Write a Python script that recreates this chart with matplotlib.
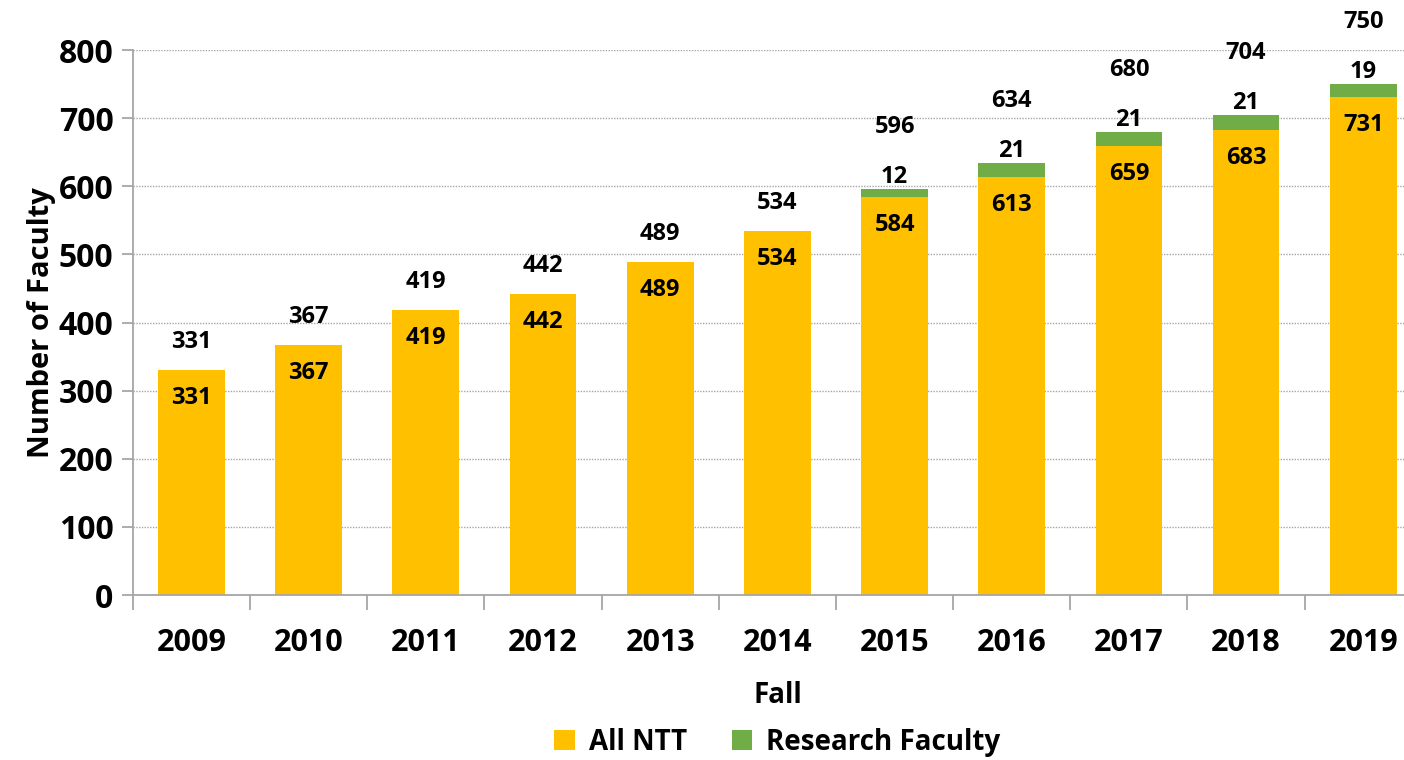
import numpy as np
import matplotlib.pyplot as plt
from matplotlib.ticker import FixedLocator, MultipleLocator
from matplotlib.transforms import offset_copy

plt.rcParams['font.family'] = ['Open Sans', 'DejaVu Sans']
plt.rcParams['font.weight'] = 'bold'

# 数据
years = ['2009', '2010', '2011', '2012', '2013', '2014', '2015', '2016', '2017', '2018', '2019']
all_ntt = [331, 367, 419, 442, 489, 534, 584, 613, 659, 683, 731]
research = [0, 0, 0, 0, 0, 0, 12, 21, 21, 21, 19]
totals = [331, 367, 419, 442, 489, 534, 596, 634, 680, 704, 750]

yellow = '#FFC000'
green = '#70AD47'

fig = plt.figure(figsize=(14.04, 7.6), dpi=100)
ax = fig.add_axes([0.0947, 0.2171, 0.918, 0.717])

x = np.arange(len(years))
w = 0.57
ax.bar(x, all_ntt, w, color=yellow, label='All NTT', zorder=2)
ax.bar(x, research, w, bottom=all_ntt, color=green, label='Research Faculty', zorder=2)

ax.set_xlim(-0.5, len(years) - 0.5)
ax.set_ylim(0, 800)
ax.yaxis.set_major_locator(MultipleLocator(100))
ax.grid(axis='y', color='#a6a6a6', linestyle=(0, (1, 1)), linewidth=1, zorder=0)

for s in ['top', 'right']:
    ax.spines[s].set_visible(False)
for s in ['left', 'bottom']:
    ax.spines[s].set_color('#a6a6a6')
    ax.spines[s].set_linewidth(1.3)

ax.set_xticks(x)
ax.set_xticklabels(years)
ax.xaxis.set_minor_locator(FixedLocator(np.arange(-0.5, len(years), 1)))
ax.tick_params(axis='x', which='major', length=0, pad=24, labelsize=22)
ax.tick_params(axis='x', which='minor', length=11, color='#a6a6a6', width=1.3)
ax.tick_params(axis='y', length=8, color='#a6a6a6', width=1.3, labelsize=23, pad=6)

ax.set_xlabel('Fall', fontsize=20, fontweight='bold', labelpad=16)
ax.set_ylabel('Number of Faculty', fontsize=21, fontweight='bold', labelpad=2)

# 柱内标签
for i in range(len(years)):
    t = offset_copy(ax.transData, fig=fig, x=0, y=-28, units='dots')
    ax.text(x[i], all_ntt[i], str(all_ntt[i]), transform=t, ha='center', va='center',
            fontsize=17, fontweight='bold', zorder=3)
    if research[i] > 0:
        t2 = offset_copy(ax.transData, fig=fig, x=0, y=12, units='dots')
        ax.text(x[i], totals[i], str(research[i]), transform=t2, ha='center', va='center',
                fontsize=17, fontweight='bold', zorder=3)
    dy = 62 if research[i] > 0 else 28
    t3 = offset_copy(ax.transData, fig=fig, x=0, y=dy, units='dots')
    ax.text(x[i], totals[i], str(totals[i]), transform=t3, ha='center', va='center',
            fontsize=17, fontweight='bold', zorder=3, clip_on=False)

ax.legend(loc='center', bbox_to_anchor=(0.5, -0.27), ncol=2, frameon=False,
          fontsize=20, handlelength=0.75, handleheight=0.75, handletextpad=0.5,
          columnspacing=1.6)

fig.savefig('out.png', dpi=100)
